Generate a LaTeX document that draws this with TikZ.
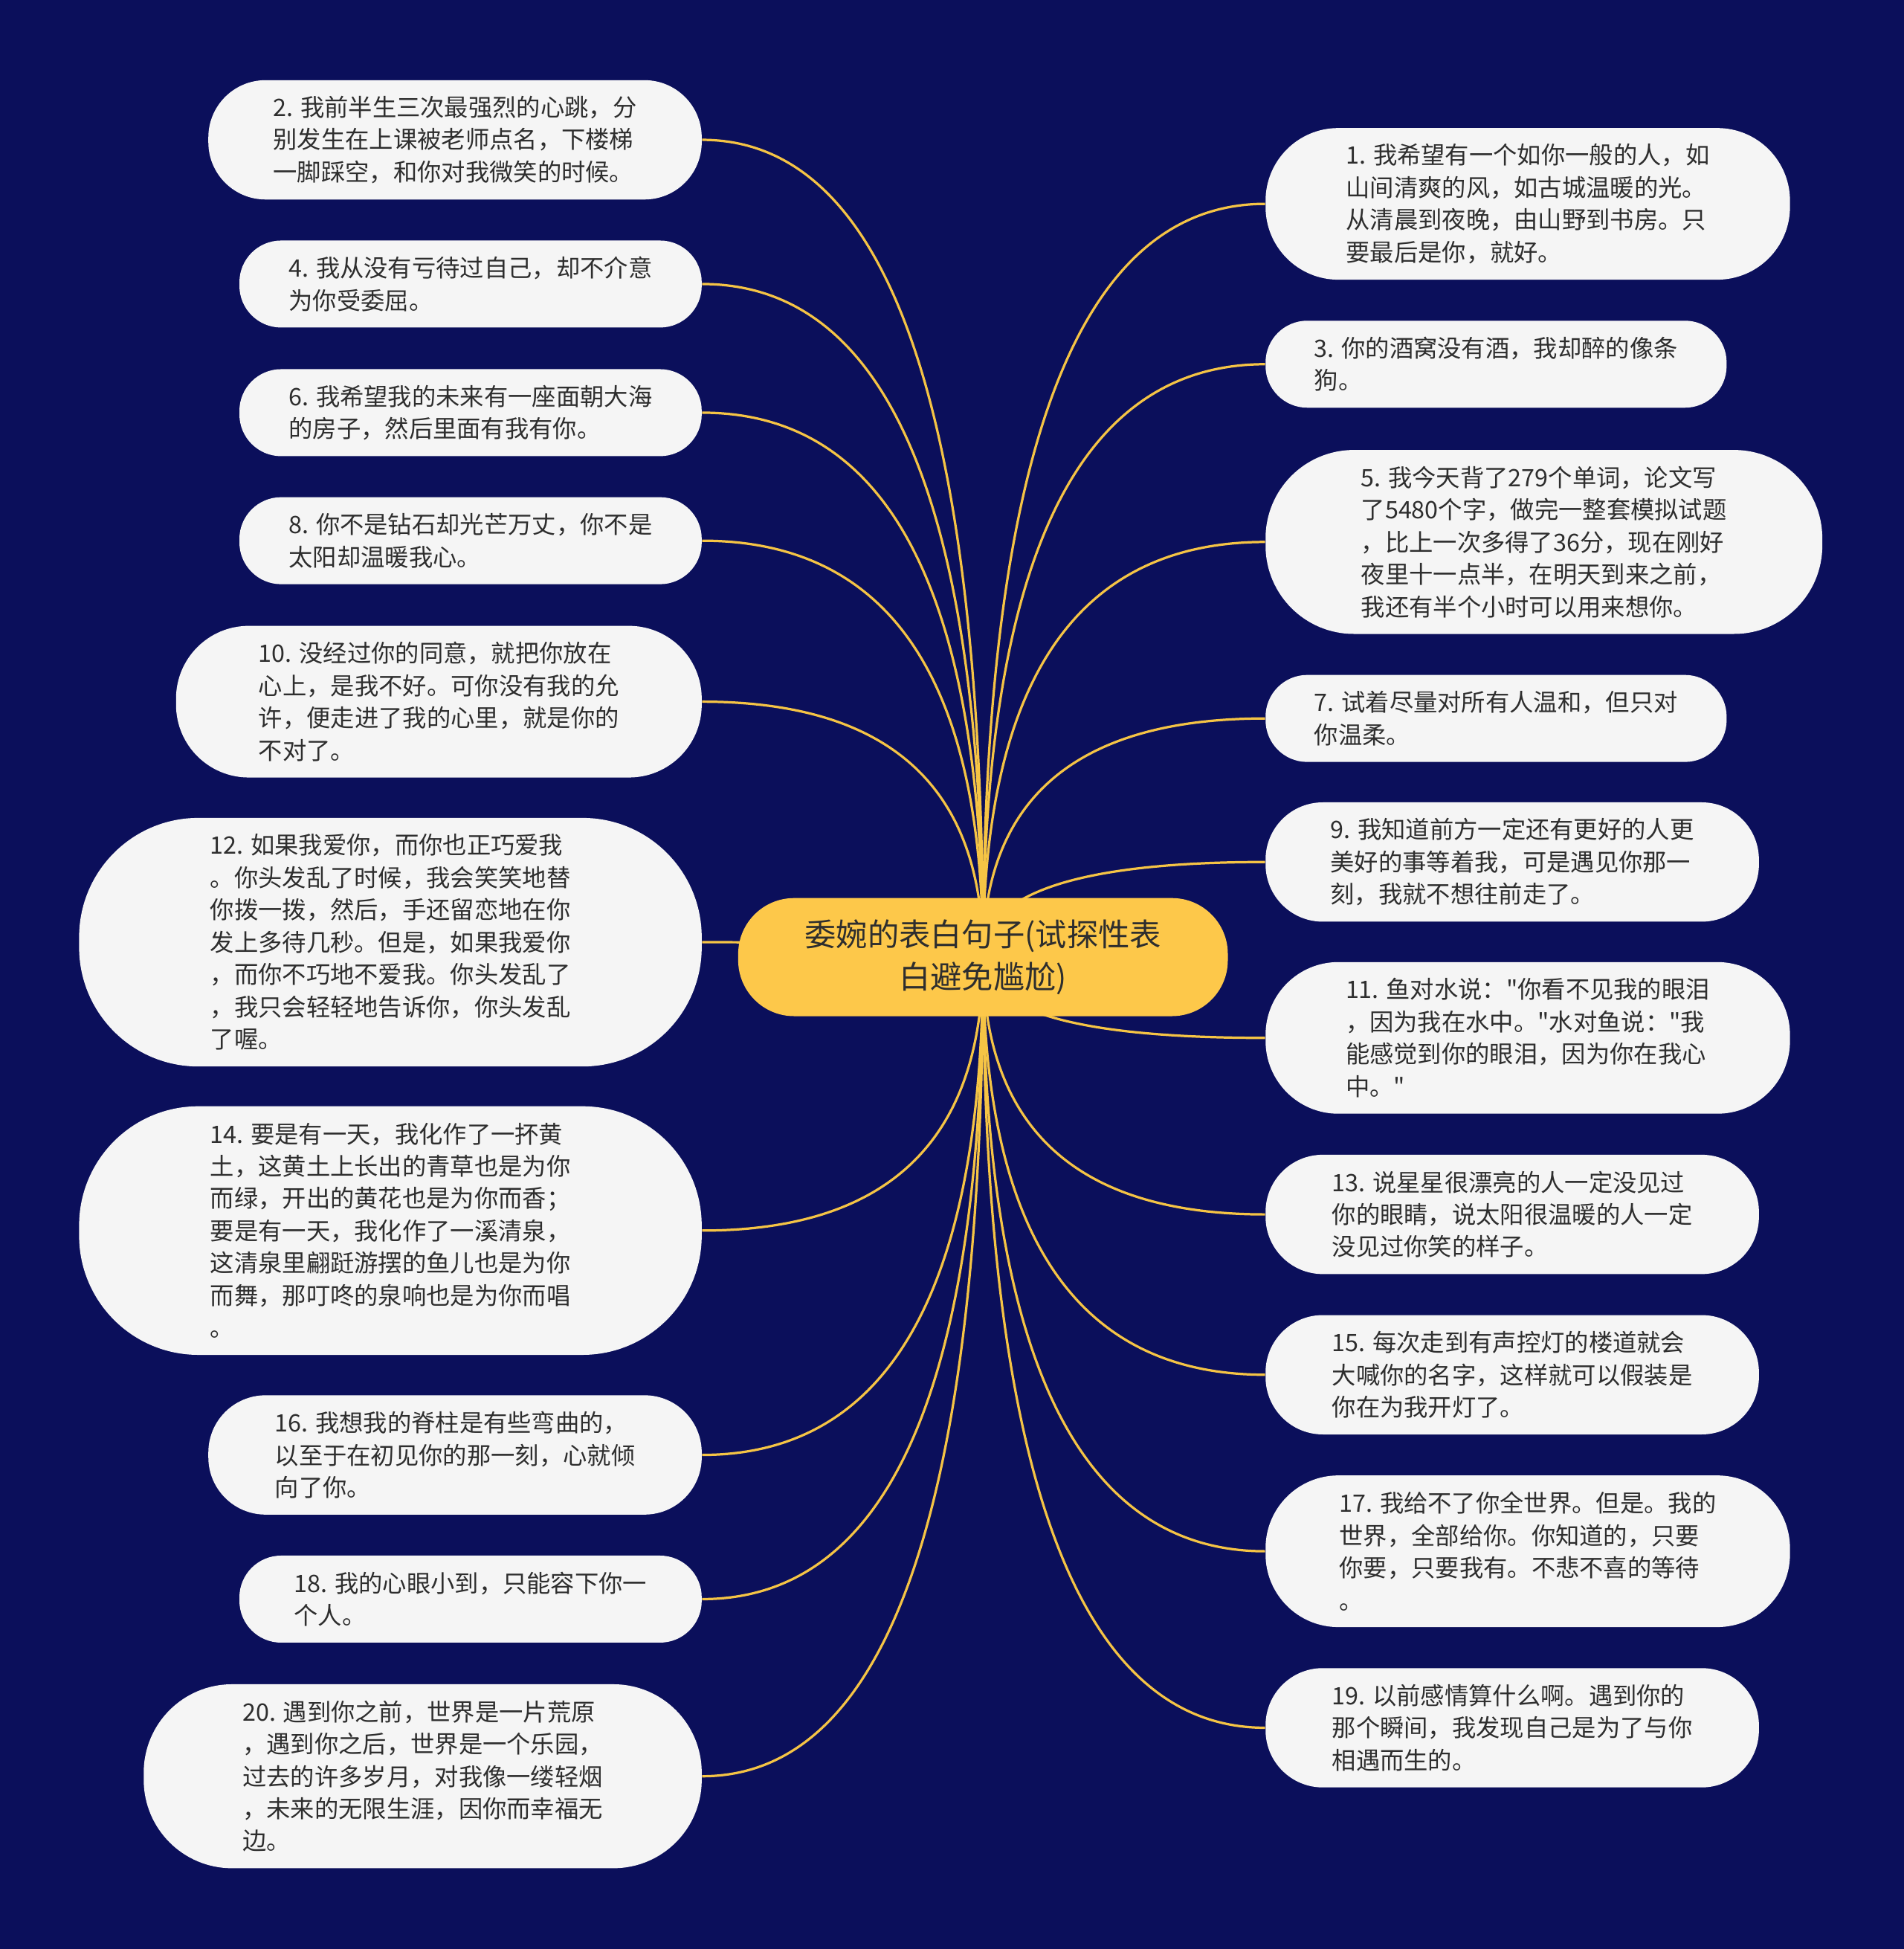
\documentclass[tikz,border=0pt]{standalone}
\usepackage{fontspec}
\setmainfont{Noto Sans CJK SC}[Ligatures=TeXOff]
\usetikzlibrary{calc}
\definecolor{bgnavy}{HTML}{0B0F5B}
\definecolor{leafgray}{HTML}{F5F5F5}
\definecolor{inkgray}{HTML}{2E2E2E}
\definecolor{rootyellow}{HTML}{FDC84A}
\definecolor{branchgold}{HTML}{F5C445}
\tikzset{
  leaf/.style 2 args={fill=leafgray, text=inkgray, inner sep=0pt, align=left,
    minimum width=#1, minimum height=#2, rounded corners=0.48*#2,
    font=\fontsize{11}{14.8}\selectfont},
  leftleaf/.style 2 args={leaf={#1}{#2}, anchor=east},
  rightleaf/.style 2 args={leaf={#1}{#2}, anchor=west},
  root/.style={fill=rootyellow, text=inkgray, inner sep=0pt, align=center,
    minimum width=78.8mm, minimum height=19mm, rounded corners=9mm,
    font=\fontsize{14.4}{19.3}\selectfont},
  branch/.style={draw=branchgold, line width=1.1pt},
}
\begin{document}
\begin{tikzpicture}[x=0.2mm, y=-0.2mm]
    % background
    \fill[bgnavy] (0,0) rectangle (1532,1568);
    \useasboundingbox (0,0) rectangle (1532,1568);
    \coordinate (hub) at (791,770);

    % left side
    \node[leftleaf={79.4mm}{19.2mm}] (l2) at (565,112.5) {2. 我前半生三次最强烈的心跳，分\\别发生在上课被老师点名，下楼梯\\一脚踩空，和你对我微笑的时候。};
    \node[leftleaf={74.4mm}{14mm}] (l4) at (565,228.5) {4. 我从没有亏待过自己，却不介意\\为你受委屈。};
    \node[leftleaf={74.4mm}{14mm}] (l6) at (565,332) {6. 我希望我的未来有一座面朝大海\\的房子，然后里面有我有你。};
    \node[leftleaf={74.4mm}{14mm}] (l8) at (565,435) {8. 你不是钻石却光芒万丈，你不是\\太阳却温暖我心。};
    \node[leftleaf={84.6mm}{24.4mm}] (l10) at (565,564.5) {10. 没经过你的同意，就把你放在\\心上，是我不好。可你没有我的允\\许，便走进了我的心里，就是你的\\不对了。};
    \node[leftleaf={100.2mm}{40mm}] (l12) at (565,758) {12. 如果我爱你，而你也正巧爱我\\。你头发乱了时候，我会笑笑地替\\你拨一拨，然后，手还留恋地在你\\发上多待几秒。但是，如果我爱你\\，而你不巧地不爱我。你头发乱了\\，我只会轻轻地告诉你，你头发乱\\了喔。};
    \node[leftleaf={100.2mm}{40mm}] (l14) at (565,990) {14. 要是有一天，我化作了一抔黄\\土，这黄土上长出的青草也是为你\\而绿，开出的黄花也是为你而香；\\要是有一天，我化作了一溪清泉，\\这清泉里翩跹游摆的鱼儿也是为你\\而舞，那叮咚的泉响也是为你而唱\\。};
    \node[leftleaf={79.4mm}{19.2mm}] (l16) at (565,1170.5) {16. 我想我的脊柱是有些弯曲的，\\以至于在初见你的那一刻，心就倾\\向了你。};
    \node[leftleaf={74.4mm}{14mm}] (l18) at (565,1286.5) {18. 我的心眼小到，只能容下你一\\个人。};
    \node[leftleaf={89.8mm}{29.6mm}] (l20) at (565,1429) {20. 遇到你之前，世界是一片荒原\\，遇到你之后，世界是一个乐园，\\过去的许多岁月，对我像一缕轻烟\\，未来的无限生涯，因你而幸福无\\边。};

    % right side
    \node[rightleaf={84.4mm}{24.4mm}] (r1) at (1018,164) {1. 我希望有一个如你一般的人，如\\山间清爽的风，如古城温暖的光。\\从清晨到夜晚，由山野到书房。只\\要最后是你，就好。};
    \node[rightleaf={74.2mm}{14mm}] (r3) at (1018,293) {3. 你的酒窝没有酒，我却醉的像条\\狗。};
    \node[rightleaf={89.6mm}{29.6mm}] (r5) at (1018,436) {5. 我今天背了279个单词，论文写\\了5480个字，做完一整套模拟试题\\，比上一次多得了36分，现在刚好\\夜里十一点半，在明天到来之前，\\我还有半个小时可以用来想你。};
    \node[rightleaf={74.2mm}{14mm}] (r7) at (1018,578) {7. 试着尽量对所有人温和，但只对\\你温柔。};
    \node[rightleaf={79.4mm}{19.2mm}] (r9) at (1018,693.5) {9. 我知道前方一定还有更好的人更\\美好的事等着我，可是遇见你那一\\刻，我就不想往前走了。};
    \node[rightleaf={84.4mm}{24.4mm}] (r11) at (1018,835) {11. 鱼对水说："你看不见我的眼泪\\，因为我在水中。"水对鱼说："我\\能感觉到你的眼泪，因为你在我心\\中。"};
    \node[rightleaf={79.4mm}{19.2mm}] (r13) at (1018,977) {13. 说星星很漂亮的人一定没见过\\你的眼睛，说太阳很温暖的人一定\\没见过你笑的样子。};
    \node[rightleaf={79.4mm}{19.2mm}] (r15) at (1018,1106) {15. 每次走到有声控灯的楼道就会\\大喊你的名字，这样就可以假装是\\你在为我开灯了。};
    \node[rightleaf={84.4mm}{24.4mm}] (r17) at (1018,1248) {17. 我给不了你全世界。但是。我的\\世界，全部给你。你知道的，只要\\你要，只要我有。不悲不喜的等待\\。};
    \node[rightleaf={79.4mm}{19.2mm}] (r19) at (1018,1390) {19. 以前感情算什么啊。遇到你的\\那个瞬间，我发现自己是为了与你\\相遇而生的。};

    % branches
    \foreach \n in {l2,l4,l6,l8,l10,l12,l14,l16,l18,l20}
        \draw[branch] (hub) .. controls ($(hub)!2/3!(hub |- \n.east)$) and ($(\n.east)!2/3!(hub |- \n.east)$) .. (\n.east);
    \foreach \n in {r1,r3,r5,r7,r9,r11,r13,r15,r17,r19}
        \draw[branch] (hub) .. controls ($(hub)!2/3!(hub |- \n.west)$) and ($(\n.west)!2/3!(hub |- \n.west)$) .. (\n.west);

    % centre
    \node[root] (root) at (hub) {委婉的表白句子(试探性表\\白避免尴尬)};
\end{tikzpicture}
\end{document}
